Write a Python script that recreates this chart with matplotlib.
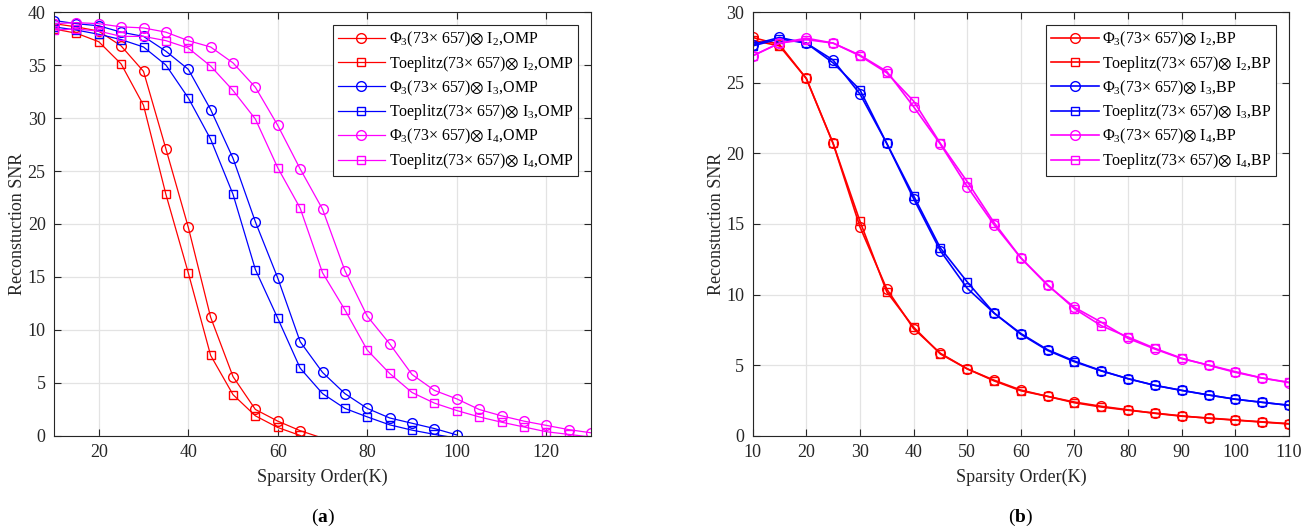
import numpy as np
import matplotlib
matplotlib.use("Agg")
import matplotlib.pyplot as plt
from matplotlib.ticker import MultipleLocator

plt.rcParams['font.family'] = ['Liberation Serif', 'DejaVu Serif']
plt.rcParams['mathtext.fontset'] = 'custom'
plt.rcParams['mathtext.rm'] = 'Liberation Serif'
plt.rcParams['mathtext.it'] = 'Liberation Serif:italic'
plt.rcParams['mathtext.bf'] = 'Liberation Serif:bold'
plt.rcParams['mathtext.fallback'] = 'stix'

# ---------------- data: (a) OMP ----------------
k_omp = [10, 15, 20, 25, 30, 35, 40, 45, 50, 55, 60, 65, 70, 75, 80, 85, 90, 95,
         100, 105, 110, 115, 120, 125, 130]
phi_i2_omp = [38.9, 38.6, 38.2, 36.8, 34.4, 27.1, 19.7, 11.2, 5.6, 2.5, 1.4, 0.5, -0.2]
toe_i2_omp = [38.4, 38.0, 37.2, 35.1, 31.2, 22.8, 15.4, 7.6, 3.9, 1.9, 0.8, 0.05, -1.5]
phi_i3_omp = [39.2, 38.9, 38.7, 38.1, 37.7, 36.3, 34.6, 30.8, 26.2, 20.2, 14.9, 8.9,
              6.0, 4.0, 2.6, 1.7, 1.2, 0.7, 0.1]
toe_i3_omp = [38.6, 38.3, 37.9, 37.4, 36.7, 35.0, 31.9, 28.0, 22.8, 15.7, 11.1, 6.4,
              4.0, 2.6, 1.8, 1.05, 0.55, 0.15, -0.2]
phi_i4_omp = [38.9, 39.0, 38.9, 38.6, 38.5, 38.1, 37.3, 36.7, 35.2, 32.9, 29.3, 25.2,
              21.4, 15.6, 11.3, 8.7, 5.8, 4.3, 3.5, 2.5, 1.9, 1.4, 1.0, 0.6, 0.3]
toe_i4_omp = [38.3, 38.4, 38.2, 37.7, 37.7, 37.3, 36.6, 34.9, 32.6, 29.9, 25.3, 21.5,
              15.4, 11.9, 8.1, 5.9, 4.1, 3.1, 2.4, 1.8, 1.3, 0.85, 0.4, 0.15, -0.1]

# ---------------- data: (b) BP ----------------
k_bp = [10, 15, 20, 25, 30, 35, 40, 45, 50, 55, 60, 65, 70, 75, 80, 85, 90, 95,
        100, 105, 110]
phi_i2_bp = [28.2, 27.7, 25.3, 20.7, 14.8, 10.4, 7.6, 5.85, 4.75, 3.95, 3.25, 2.8,
             2.4, 2.1, 1.85, 1.6, 1.4, 1.27, 1.13, 1.0, 0.87]
toe_i2_bp = [28.0, 27.6, 25.3, 20.7, 15.2, 10.2, 7.7, 5.8, 4.75, 3.9, 3.2, 2.8,
             2.35, 2.05, 1.82, 1.62, 1.42, 1.25, 1.12, 0.98, 0.85]
phi_i3_bp = [27.7, 28.2, 27.8, 26.6, 24.2, 20.7, 16.8, 13.1, 10.45, 8.7, 7.25, 6.1,
             5.3, 4.62, 4.05, 3.58, 3.23, 2.9, 2.6, 2.38, 2.17]
toe_i3_bp = [27.6, 28.1, 27.8, 26.4, 24.5, 20.7, 17.0, 13.3, 10.9, 8.7, 7.2, 6.05,
             5.25, 4.6, 4.05, 3.58, 3.22, 2.9, 2.6, 2.38, 2.17]
phi_i4_bp = [26.9, 27.8, 28.15, 27.8, 26.95, 25.8, 23.3, 20.65, 17.65, 14.95, 12.6, 10.65,
             9.1, 8.05, 6.9, 6.15, 5.47, 5.02, 4.55, 4.1, 3.77]
toe_i4_bp = [26.9, 27.8, 28.05, 27.8, 26.9, 25.7, 23.7, 20.7, 18.0, 15.1, 12.6, 10.7,
             9.0, 7.8, 7.0, 6.2, 5.5, 5.0, 4.5, 4.1, 3.8]

labels_omp = [r'$\Phi_3$(73$\times$ 657)$\otimes$ I$_2$,OMP',
              r'Toeplitz(73$\times$ 657)$\otimes$ I$_2$,OMP',
              r'$\Phi_3$(73$\times$ 657)$\otimes$ I$_3$,OMP',
              r'Toeplitz(73$\times$ 657)$\otimes$ I$_3$,OMP',
              r'$\Phi_3$(73$\times$ 657)$\otimes$ I$_4$,OMP',
              r'Toeplitz(73$\times$ 657)$\otimes$ I$_4$,OMP']
labels_bp = [l.replace('OMP', 'BP') for l in labels_omp]

colors = ['#ff0000', '#ff0000', '#0000ff', '#0000ff', '#ff00ff', '#ff00ff']
markers = ['o', 's', 'o', 's', 'o', 's']
msizes = [7.0, 5.6, 7.0, 5.6, 7.0, 5.6]

fig = plt.figure(figsize=(13.14, 5.32), dpi=100)
ax1 = fig.add_axes([0.0411, 0.1805, 0.4087, 0.7969])
ax2 = fig.add_axes([0.5728, 0.1805, 0.4082, 0.7969])

axis_col = '#262626'


def draw(ax, k, series, labels, xlim, ylim, xstep, ystep, lw):
    for y, lab, c, m, ms in zip(series, labels, colors, markers, msizes):
        x = k[:len(y)]
        vis = [i for i, v in enumerate(y) if ylim[0] <= v <= ylim[1]]
        ax.plot(x, y, color=c, marker=m, markersize=ms, markerfacecolor='none',
                markeredgecolor=c, markeredgewidth=1.0, linewidth=lw,
                markevery=vis, label=lab)
    ax.set_xlim(*xlim)
    ax.set_ylim(*ylim)
    ax.xaxis.set_major_locator(MultipleLocator(xstep))
    ax.yaxis.set_major_locator(MultipleLocator(ystep))
    ax.grid(True, color='#e3e3e3', linewidth=0.9)
    ax.set_axisbelow(True)
    ax.tick_params(direction='in', top=True, right=True, length=5, width=0.8,
                   labelsize=13, colors=axis_col, labelcolor=axis_col, pad=6)
    for s in ax.spines.values():
        s.set_color(axis_col)
        s.set_linewidth(0.8)
    ax.set_xlabel('Sparsity Order(K)', fontsize=13, color=axis_col, labelpad=5)
    ax.set_ylabel('Reconstuction SNR', fontsize=13, color=axis_col, labelpad=1)
    leg = ax.legend(loc='upper right', fontsize=11.5, frameon=True, fancybox=False,
                    edgecolor='#262626', framealpha=1, handlelength=3.0,
                    borderaxespad=0.8, labelspacing=0.3, borderpad=0.3,
                    handletextpad=0.2)
    leg.get_frame().set_linewidth(0.8)


draw(ax1, k_omp, [phi_i2_omp, toe_i2_omp, phi_i3_omp, toe_i3_omp, phi_i4_omp, toe_i4_omp],
     labels_omp, (10, 130), (0, 40), 20, 5, 0.9)
draw(ax2, k_bp, [phi_i2_bp, toe_i2_bp, phi_i3_bp, toe_i3_bp, phi_i4_bp, toe_i4_bp],
     labels_bp, (10, 110), (0, 30), 10, 5, 1.2)
ax1.set_xticks([20, 40, 60, 80, 100, 120])

fig.text(0.2455, 0.028, r'($\mathbf{a}$)', ha='center', va='center', fontsize=14)
fig.text(0.7769, 0.028, r'($\mathbf{b}$)', ha='center', va='center', fontsize=14)

fig.savefig('out.png', dpi=100)
